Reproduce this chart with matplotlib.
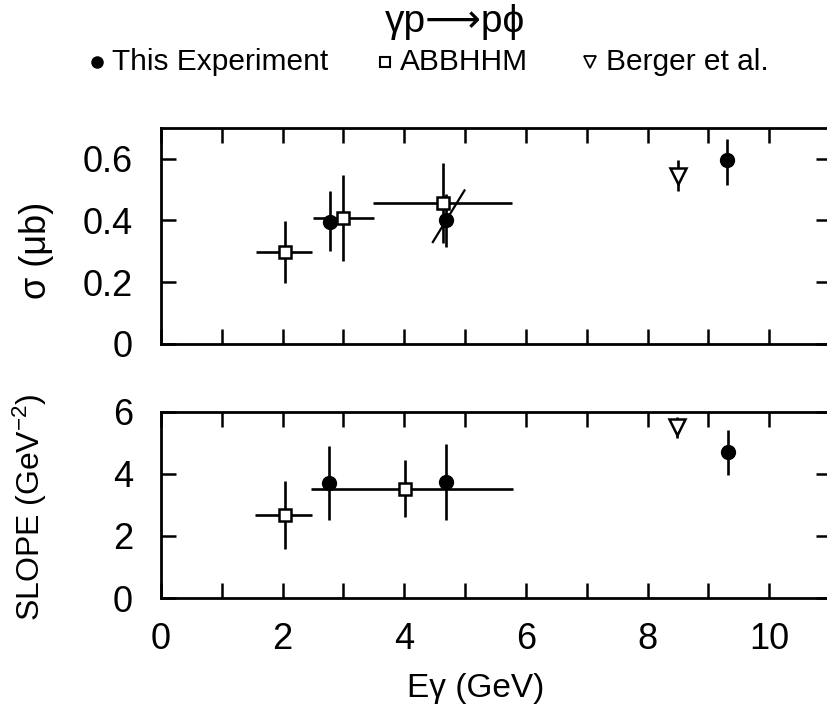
import matplotlib
matplotlib.use('Agg')
import matplotlib.pyplot as plt
from matplotlib.lines import Line2D

plt.rcParams['font.family'] = ['Liberation Sans', 'DejaVu Sans']
plt.rcParams['mathtext.default'] = 'regular'

# ---------------- data ----------------
# Top panel: cross section sigma (micro-barn)
exp_E = [2.78, 4.68, 9.30]
exp_sigma = [0.395, 0.400, 0.595]
exp_sigma_lo = [0.095, 0.085, 0.080]
exp_sigma_hi = [0.100, 0.085, 0.070]

abb_E = [2.04, 3.00, 4.63]
abb_E_lo = [0.48, 0.50, 1.15]
abb_E_hi = [0.45, 0.50, 1.14]
abb_sigma = [0.297, 0.408, 0.457]
abb_sigma_err = [0.100, 0.140, 0.130]

ber_E = [8.50]
ber_sigma = [0.545]
ber_sigma_err = [0.050]

# stray slanted stroke near the 4.7 GeV point (as in the original)
slash_E = [4.47, 4.99]
slash_sigma = [0.330, 0.497]

# Bottom panel: slope (GeV^-2)
exp_slope_E = [2.77, 4.68, 9.32]
exp_slope = [3.70, 3.75, 4.70]
exp_slope_lo = [1.20, 1.23, 0.75]
exp_slope_hi = [1.20, 1.22, 0.72]

abb_slope_E = [2.04, 4.02]
abb_slope_E_lo = [0.49, 1.55]
abb_slope_E_hi = [0.44, 1.76]
abb_slope = [2.68, 3.52]
abb_slope_err = [1.10, 0.92]

ber_slope_E = [8.48]
ber_slope = [5.52]
ber_slope_lo = [0.37]
ber_slope_hi = [0.31]

xticks = list(range(0, 12))
xtick_labels = ['0', '', '2', '', '4', '', '6', '', '8', '', '10', '']
sigma_ticks = [0.0, 0.2, 0.4, 0.6]
sigma_tick_labels = ['0', '0.2', '0.4', '0.6']
slope_ticks = [0, 2, 4, 6]
slope_tick_labels = ['0', '2', '4', '6']

legend_labels = ['This Experiment', 'ABBHHM', 'Berger et al.']

# ---------------- figure ----------------
W, H = 827, 717
fig = plt.figure(figsize=(W / 100, H / 100), dpi=100)


def fx(px):
    return px / W


def fy(py):
    return 1 - py / H


left_px, right_px = 160.9, 831.0
ax1 = fig.add_axes([fx(left_px), fy(344), fx(right_px - left_px), (344 - 127.7) / H])
ax2 = fig.add_axes([fx(left_px), fy(598), fx(right_px - left_px), (598 - 411.7) / H])

lw = 1.9
eb_kw = dict(fmt='none', ecolor='black', elinewidth=lw, capsize=0, zorder=2)
circ_kw = dict(ls='none', marker='o', ms=10, mfc='black', mec='black', zorder=4)
sq_kw = dict(ls='none', marker='s', ms=9, mfc='white', mec='black', mew=1.8, zorder=5)
tri_kw = dict(ls='none', marker='v', ms=11, mfc='white', mec='black', mew=1.8, zorder=5)

# top panel
ax1.errorbar(exp_E, exp_sigma, yerr=[exp_sigma_lo, exp_sigma_hi], **eb_kw)
ax1.plot(exp_E, exp_sigma, **circ_kw)
ax1.errorbar(abb_E, abb_sigma, xerr=[abb_E_lo, abb_E_hi], yerr=abb_sigma_err, **eb_kw)
ax1.plot(abb_E, abb_sigma, **sq_kw)
ax1.errorbar(ber_E, ber_sigma, yerr=ber_sigma_err, **eb_kw)
ax1.plot(ber_E, ber_sigma, **tri_kw)
ax1.plot(slash_E, slash_sigma, color='black', lw=1.6, zorder=3)

# bottom panel
ax2.errorbar(exp_slope_E, exp_slope, yerr=[exp_slope_lo, exp_slope_hi], **eb_kw)
ax2.plot(exp_slope_E, exp_slope, **circ_kw)
ax2.errorbar(abb_slope_E, abb_slope, xerr=[abb_slope_E_lo, abb_slope_E_hi],
             yerr=abb_slope_err, **eb_kw)
ax2.plot(abb_slope_E, abb_slope, **sq_kw)
ax2.errorbar(ber_slope_E, ber_slope, yerr=[ber_slope_lo, ber_slope_hi], **eb_kw)
ax2.plot(ber_slope_E, ber_slope, **tri_kw)

xmax = (right_px - left_px) / 60.84
for ax in (ax1, ax2):
    ax.set_xlim(0, xmax)
    ax.set_xticks(xticks)
    for s in ax.spines.values():
        s.set_linewidth(2.0)
    ax.tick_params(direction='in', length=11, width=1.8, top=True, right=True,
                   labelsize=26, pad=20)

ax1.set_ylim(0, 0.7)
ax1.set_yticks(sigma_ticks)
ax1.set_yticklabels(sigma_tick_labels)
ax1.set_xticklabels([])

ax2.set_ylim(0, 6.0)
ax2.set_yticks(slope_ticks)
ax2.set_yticklabels(slope_tick_labels)
ax2.set_xticklabels(xtick_labels)
ax2.tick_params(axis='x', pad=17)

# axis labels
fig.text(fx(36), fy(250), 'σ (μb)', rotation=90, ha='center', va='center', fontsize=26)
fig.text(fx(30), fy(507), 'SLOPE (GeV$^{-2}$)', rotation=90, ha='center', va='center',
         fontsize=23)
fig.text(fx(476), fy(688), 'Eγ (GeV)', ha='center', va='center', fontsize=24)

# title
fig.text(fx(455), fy(22), 'γp⟶pϕ', ha='center', va='center', fontsize=28)

# legend row
leg_y = fy(62)
marker_x = [97, 385, 590]
text_x = [112, 400, 606]
markers = [dict(marker='o', ms=8, mfc='black', mec='black'),
           dict(marker='s', ms=7, mfc='white', mec='black', mew=1.5),
           dict(marker='v', ms=8, mfc='white', mec='black', mew=1.3)]
for mx, tx, mk, lab in zip(marker_x, text_x, markers, legend_labels):
    fig.add_artist(Line2D([fx(mx)], [leg_y], transform=fig.transFigure, ls='none', **mk))
    fig.text(fx(tx), leg_y, lab, ha='left', va='center', fontsize=21.5)

fig.savefig('out.png', dpi=100)
